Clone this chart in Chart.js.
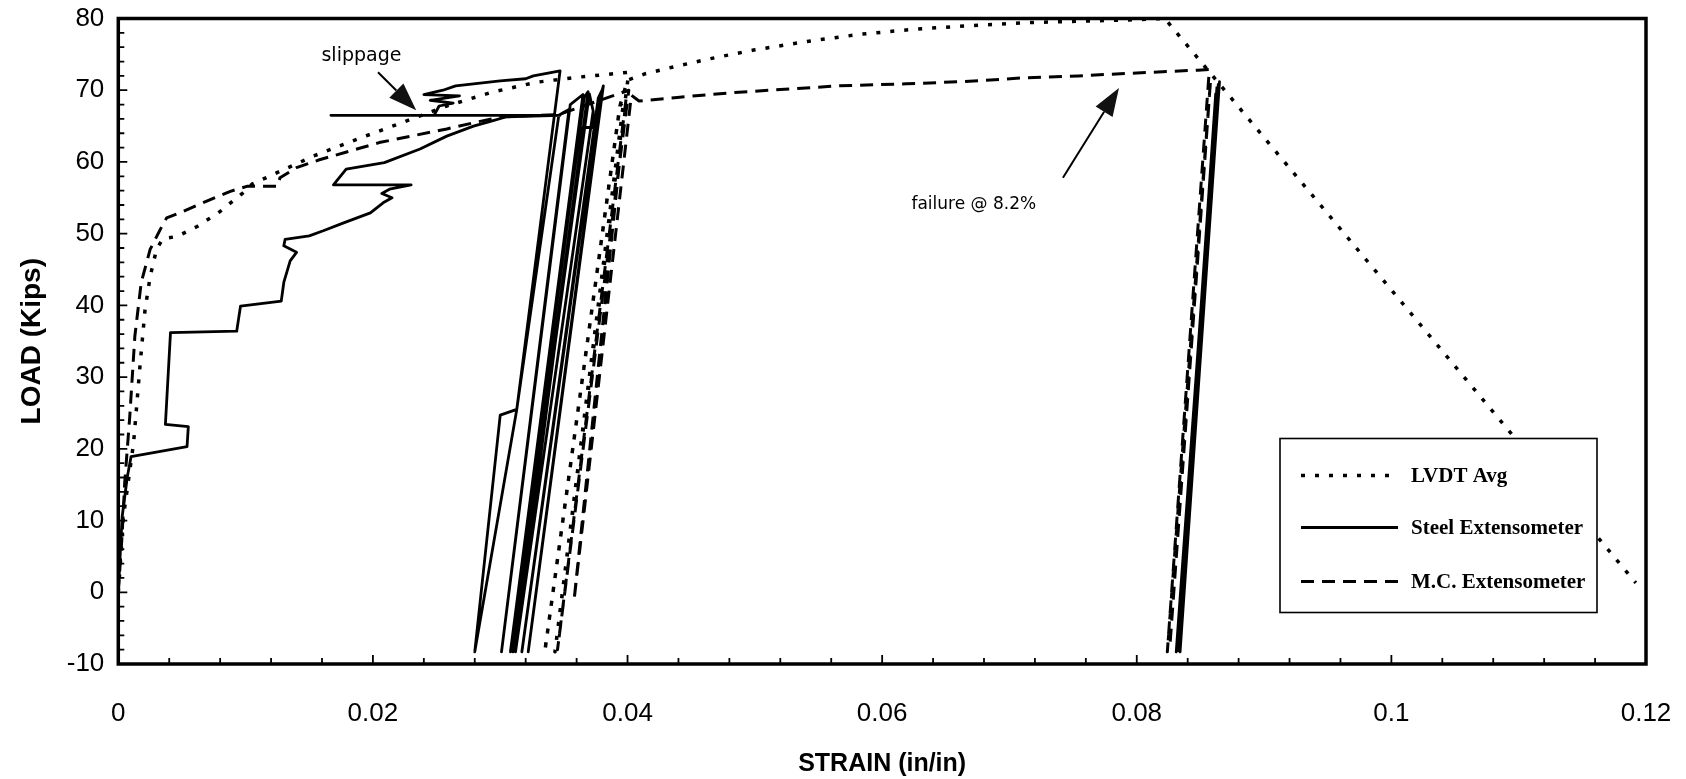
<!DOCTYPE html>
<html>
<head>
<meta charset="utf-8">
<title>Load vs Strain</title>
<script src="https://cdn.jsdelivr.net/npm/chart.js@4.4.1/dist/chart.umd.min.js"></script>
<style>
  html, body { margin: 0; padding: 0; background: #fff; }
</style>
</head>
<body>
<canvas id="loadChart" width="1686" height="779"></canvas>
<script>
// [strain (in/in), load (kips)] pairs; null breaks the line
const lvdtAvg = [
  [0, 0], [0.0002, 5], [0.0004, 10.5], [0.0012, 20.8], [0.0017, 31.5], [0.0021, 39.4], [0.0025, 44.0],
  [0.0030, 47.8], [0.0035, 49.3], [0.0046, 49.6], [0.0062, 51.0], [0.0080, 53.1], [0.0098, 55.7],
  [0.0105, 56.9], [0.0153, 60.8], [0.0188, 63.2], [0.0223, 65.5], [0.0258, 67.8], [0.0293, 69.7],
  [0.0328, 71.1], [0.0346, 71.5], [0.0360, 71.8], [0.0401, 72.5],
  [0.0343, -8.3], [0.0397, 68.5], [0.0394, 67.8], [0.0335, -8.3], [0.0394, 67.8], [0.0400, 71.4],
  [0.0414, 72.3], [0.0435, 73.2], [0.0465, 74.4], [0.0499, 75.6], [0.0541, 76.8], [0.0583, 77.8],
  [0.0625, 78.5], [0.0668, 79.0], [0.0710, 79.4], [0.0752, 79.6], [0.0794, 79.8], [0.0822, 80.0],
  [0.1192, 1.3]
];

const steelExtensometer = [
  [0, 0], [0.0003, 10.5], [0.0007, 16], [0.0010, 18.9], [0.0054, 20.3], [0.0055, 23.1], [0.0037, 23.4],
  [0.0041, 36.2], [0.0093, 36.4], [0.0096, 39.9], [0.0128, 40.6], [0.0130, 43.2], [0.0135, 46.2],
  [0.0140, 47.4], [0.0130, 48.3], [0.0131, 49.2], [0.0150, 49.7], [0.0161, 50.4], [0.0177, 51.5],
  [0.0198, 52.9], [0.0208, 54.3], [0.0215, 55.0], [0.0207, 55.6], [0.0213, 56.2], [0.0230, 56.8],
  [0.0169, 56.8], [0.0179, 59.0], [0.0209, 59.9], [0.0237, 61.8], [0.0258, 63.6], [0.0279, 65.0],
  [0.0293, 65.7], [0.0305, 66.3], [0.0347, 66.5], [0.0167, 66.5], [0.0248, 66.5], [0.0252, 67.8],
  [0.0263, 68.2], [0.0245, 68.6], [0.0268, 69.2], [0.0240, 69.4], [0.0255, 70.0], [0.0265, 70.6],
  [0.0300, 71.3], [0.0320, 71.6], [0.0326, 72.0], [0.0347, 72.7],
  [0.0313, 25.5], [0.0300, 24.7], [0.0280, -8.3], [0.0313, 25.5], [0.0346, 66.5],
  [0.0354, 67.3], [0.0301, -8.3], [0.0355, 68.0], [0.0365, 69.4], [0.0308, -8.3], [0.0366, 69.0],
  [0.0369, 69.8], [0.0310, -8.3], [0.0370, 69.5],
  [0.0373, 67.1], [0.0312, -8.3], [0.0365, 64.8], [0.0372, 64.8], [0.0381, 70.6], [0.0322, -8.3],
  [0.0380, 70.0], [0.0377, 68.9], [0.0317, -8.3], [0.0378, 69.2],
  null,
  [0.0863, 70.5], [0.0831, -8.3], [0.0865, 71.2], [0.0834, -8.3], [0.0862, 69.5], [0.0832, -8.0],
  [0.0864, 70.8], [0.0833, -8.3]
];

const mcExtensometer = [
  [0, 0], [0.0003, 8], [0.0005, 15.2], [0.0009, 24.5], [0.0013, 35.7], [0.0018, 43.2], [0.0025, 47.8],
  [0.0033, 50.6], [0.0038, 52.2], [0.0051, 53.1], [0.0069, 54.5], [0.0088, 55.9], [0.0101, 56.6],
  [0.0125, 56.6], [0.0127, 57.8], [0.0140, 59.2], [0.0158, 60.3], [0.0205, 62.7], [0.0258, 64.6],
  [0.0280, 65.5], [0.0302, 66.3], [0.0346, 66.6], [0.0401, 70.0], [0.0345, -8.0], [0.0399, 69.0],
  [0.0358, -1.1], [0.0403, 69.3], [0.0409, 68.5], [0.0439, 69.0], [0.0478, 69.6], [0.0520, 70.1],
  [0.0565, 70.6], [0.0619, 70.9], [0.0664, 71.2], [0.0709, 71.7], [0.0754, 72.0], [0.0800, 72.4],
  [0.0848, 72.8], [0.0857, 72.9], [0.0824, -8.3], [0.0858, 71.5], [0.0826, -7.6]
];

const strainTicks = [0, 0.02, 0.04, 0.06, 0.08, 0.1, 0.12];
const loadTicks = [-10, 0, 10, 20, 30, 40, 50, 60, 70, 80];
const strainMinorStep = 0.004;
const loadMinorStep = 2;

// callouts: text position, arrow tail and arrow head in data units
const callouts = [
  { text: 'slippage', at: [0.0191, 74.8], tail: [0.0204, 72.5], head: [0.0234, 67.2], size: 19 },
  { text: 'failure @ 8.2%', at: [0.0672, 54.0], tail: [0.0742, 57.8], head: [0.0786, 70.3], size: 17 }
];

const toPoints = (pairs) => pairs.map(p => p ? { x: p[0], y: p[1] } : { x: null, y: null });

const tickFont = { family: '"Liberation Sans", Arial, sans-serif', size: 26 };

// frame, inward tick marks, callouts
const framePlugin = {
  id: 'frame',
  afterDatasetsDraw(chart) {
    const { ctx, chartArea: a, scales: { x, y } } = chart;
    ctx.save();
    ctx.strokeStyle = '#000';
    ctx.lineWidth = 1.8;
    ctx.beginPath();
    for (let i = 0; i <= 30; i++) {
      const px = x.getPixelForValue(i * strainMinorStep);
      const len = i % 5 === 0 ? 9 : 6;
      ctx.moveTo(px, a.bottom);
      ctx.lineTo(px, a.bottom - len);
    }
    for (let i = 0; i <= 45; i++) {
      const py = y.getPixelForValue(-10 + i * loadMinorStep);
      const len = i % 5 === 0 ? 9 : 6;
      ctx.moveTo(a.left, py);
      ctx.lineTo(a.left + len, py);
    }
    ctx.stroke();

    ctx.lineWidth = 3.5;
    ctx.strokeRect(a.left, a.top, a.right - a.left, a.bottom - a.top);

    callouts.forEach(c => {
      const tx = x.getPixelForValue(c.tail[0]), ty = y.getPixelForValue(c.tail[1]);
      const hx = x.getPixelForValue(c.head[0]), hy = y.getPixelForValue(c.head[1]);
      const ang = Math.atan2(hy - ty, hx - tx);
      const headLen = 28, halfW = 10;
      const bx = hx - headLen * Math.cos(ang), by = hy - headLen * Math.sin(ang);
      ctx.lineWidth = 2;
      ctx.beginPath();
      ctx.moveTo(tx, ty);
      ctx.lineTo(bx, by);
      ctx.stroke();
      ctx.fillStyle = '#111';
      ctx.beginPath();
      ctx.moveTo(hx, hy);
      ctx.lineTo(bx + halfW * Math.sin(ang), by - halfW * Math.cos(ang));
      ctx.lineTo(bx - halfW * Math.sin(ang), by + halfW * Math.cos(ang));
      ctx.closePath();
      ctx.fill();

      ctx.fillStyle = '#000';
      ctx.font = c.size + 'px "DejaVu Sans", sans-serif';
      ctx.textAlign = 'center';
      ctx.textBaseline = 'middle';
      ctx.fillText(c.text, x.getPixelForValue(c.at[0]), y.getPixelForValue(c.at[1]));
    });
    ctx.restore();
  }
};

// boxed legend inside the lower right of the plot
const boxLegendPlugin = {
  id: 'boxLegend',
  afterDraw(chart) {
    const { ctx, chartArea: a } = chart;
    const left = a.right - 366, top = a.top + 420, w = 317, h = 174;
    ctx.save();
    ctx.fillStyle = '#fff';
    ctx.fillRect(left, top, w, h);
    ctx.strokeStyle = '#000';
    ctx.lineWidth = 1.6;
    ctx.strokeRect(left, top, w, h);
    const rows = [37, 89, 143];
    chart.data.datasets.forEach((ds, i) => {
      const ry = top + rows[i];
      ctx.lineWidth = ds.borderWidth;
      ctx.setLineDash(ds.borderDash || []);
      ctx.beginPath();
      ctx.moveTo(left + 21, ry);
      ctx.lineTo(left + 118, ry);
      ctx.stroke();
      ctx.setLineDash([]);
      ctx.fillStyle = '#000';
      ctx.font = 'bold 21px "Liberation Serif", "Times New Roman", serif';
      ctx.textAlign = 'left';
      ctx.textBaseline = 'middle';
      ctx.fillText(ds.label, left + 131, ry + 1);
    });
    ctx.restore();
  }
};

const ctx = document.getElementById('loadChart').getContext('2d');
new Chart(ctx, {
  type: 'scatter',
  data: {
    datasets: [
      {
        label: 'LVDT Avg',
        data: toPoints(lvdtAvg),
        borderColor: '#000',
        borderWidth: 3.5,
        borderDash: [4, 10]
      },
      {
        label: 'Steel Extensometer',
        data: toPoints(steelExtensometer),
        borderColor: '#000',
        borderWidth: 2.8,
        borderDash: []
      },
      {
        label: 'M.C. Extensometer',
        data: toPoints(mcExtensometer),
        borderColor: '#000',
        borderWidth: 3,
        borderDash: [13, 8]
      }
    ].map(ds => Object.assign(ds, {
      showLine: true,
      pointRadius: 0,
      pointHoverRadius: 0,
      spanGaps: false,
      tension: 0,
      fill: false,
      borderJoinStyle: 'round'
    }))
  },
  options: {
    responsive: false,
    animation: false,
    devicePixelRatio: 1,
    layout: { padding: { left: 0, top: 18.5, right: 40, bottom: 0 } },
    plugins: {
      legend: { display: false },
      tooltip: { enabled: false }
    },
    scales: {
      x: {
        type: 'linear',
        min: 0,
        max: 0.12,
        grid: { display: false, drawTicks: false },
        border: { display: false },
        afterBuildTicks: (scale) => { scale.ticks = strainTicks.map(v => ({ value: v })); },
        afterFit: (scale) => {
          scale.height = 115;
          scale.paddingLeft = 0;
          scale.paddingRight = 0;
        },
        ticks: {
          font: tickFont,
          color: '#000',
          padding: 34,
          maxRotation: 0,
          callback: (v) => String(+v.toFixed(3))
        },
        title: {
          display: true,
          text: 'STRAIN (in/in)',
          font: { family: '"Liberation Sans", Arial, sans-serif', size: 25, weight: 'bold' },
          color: '#000',
          padding: { top: 0, bottom: 0 }
        }
      },
      y: {
        type: 'linear',
        min: -10,
        max: 80,
        grid: { display: false, drawTicks: false },
        border: { display: false },
        afterBuildTicks: (scale) => { scale.ticks = loadTicks.map(v => ({ value: v })); },
        afterFit: (scale) => {
          scale.width = 118.3;
          scale.paddingTop = 0;
          scale.paddingBottom = 0;
        },
        ticks: {
          font: tickFont,
          color: '#000',
          padding: 14
        },
        title: {
          display: true,
          text: 'LOAD (Kips)',
          font: { family: '"Liberation Sans", Arial, sans-serif', size: 28, weight: 'bold' },
          color: '#000',
          padding: { top: 15, bottom: 0 }
        }
      }
    }
  },
  plugins: [framePlugin, boxLegendPlugin]
});
</script>
</body>
</html>
